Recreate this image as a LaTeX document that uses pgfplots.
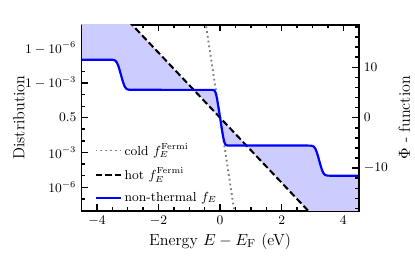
\documentclass[border=0pt]{standalone}
\usepackage{pgfplots}
\pgfplotsset{compat=1.18}
\usepgfplotslibrary{fillbetween}

\begin{document}
\begin{tikzpicture}
\pgfplotsset{
 common/.style={
  width=189.8pt, height=127.2pt, scale only axis,
  xmin=-4.5, xmax=4.5, ymin=-18.42, ymax=18.42,
  axis line style={line width=1.3pt},
  every tick/.style={black, line width=1pt},
  major tick length=4.5pt, minor tick length=2.5pt,
  tick align=inside,
  tick label style={font=\fontsize{9}{10}\selectfont},
  label style={font=\fontsize{11}{13}\selectfont},
 }
}
\begin{axis}[common,
  set layers,
  xtick={-4,-2,0,2,4}, minor x tick num=3, xtick pos=both,
  ytick={-13.8155,-6.9068,0,6.9068,13.8155},
  yticklabels={$10^{-6}$,$10^{-3}$,$0.5$,$1-10^{-3}$,$1-10^{-6}$},
  minor ytick={-16.118,-11.513,-9.210,-4.595,-2.197,2.197,4.595,9.210,11.513,16.118},
  ytick pos=left,
  xlabel={Energy $E-E_{\mathrm{F}}$ (eV)},
  xlabel style={at={(axis description cs:0.5,-0.165)}, anchor=center},
  ylabel={Distribution},
  ylabel style={at={(axis description cs:-0.226,0.5)}, anchor=center},
  legend style={draw=none, fill=none, at={(axis description cs:0.03,0.005)}, anchor=south west,
    font=\fontsize{9}{10}\selectfont, row sep=3.2pt},
  legend cell align=left,
]
\addplot[gray, line width=1.3pt, dash pattern=on 1.2pt off 2.1pt] coordinates {(-0.5,20) (0.5,-20)};
\addlegendentry{cold $f_E^{\mathrm{Fermi}}$}
\addplot[black, line width=1.4pt, dash pattern=on 4.5pt off 2.2pt, name path=hot] coordinates {(-4.5,29.03) (4.5,-29.03)};
\addlegendentry{hot $f_E^{\mathrm{Fermi}}$}
\addplot[blue, line width=1.5pt, name path=nt] table {
x y
-4.5 11.5
-3.5 11.49
-3.45 11.44
-3.40 11.30
-3.35 10.94
-3.30 10.21
-3.25 9.195
-3.20 8.073
-3.15 7.018
-3.10 6.215
-3.05 5.776
-3.00 5.604
-2.95 5.548
-2.90 5.532
-2.80 5.526
-0.30 5.525
-0.25 5.514
-0.20 5.444
-0.175 5.314
-0.15 5.04
-0.125 4.53
-0.10 3.80
-0.075 2.916
-0.05 1.963
-0.025 0.980
0 0
0.025 -0.980
0.05 -1.963
0.075 -2.916
0.10 -3.80
0.125 -4.53
0.15 -5.04
0.175 -5.314
0.20 -5.444
0.25 -5.514
0.30 -5.525
2.80 -5.526
2.90 -5.532
2.95 -5.548
3.00 -5.604
3.05 -5.776
3.10 -6.215
3.15 -7.018
3.20 -8.073
3.25 -9.195
3.30 -10.21
3.35 -10.94
3.40 -11.30
3.45 -11.44
3.5 -11.49
4.5 -11.5
};
\addlegendentry{non-thermal $f_E$}
\addplot[blue!20, forget plot] fill between[of=nt and hot];
\end{axis}
\begin{axis}[common,
  hide x axis,
  ytick pos=right, yticklabel pos=right,
  ytick={-10,0,10},
  minor ytick={-18,-16,-14,-12,-8,-6,-4,-2,2,4,6,8,12,14,16,18},
  ylabel={$\Phi$ - function},
  ylabel style={at={(axis description cs:1.165,0.5)}, anchor=center, rotate=0},
]
\end{axis}
\path (-55.8pt,-30.6pt) (226.5pt,144.2pt);
\end{tikzpicture}
\end{document}
